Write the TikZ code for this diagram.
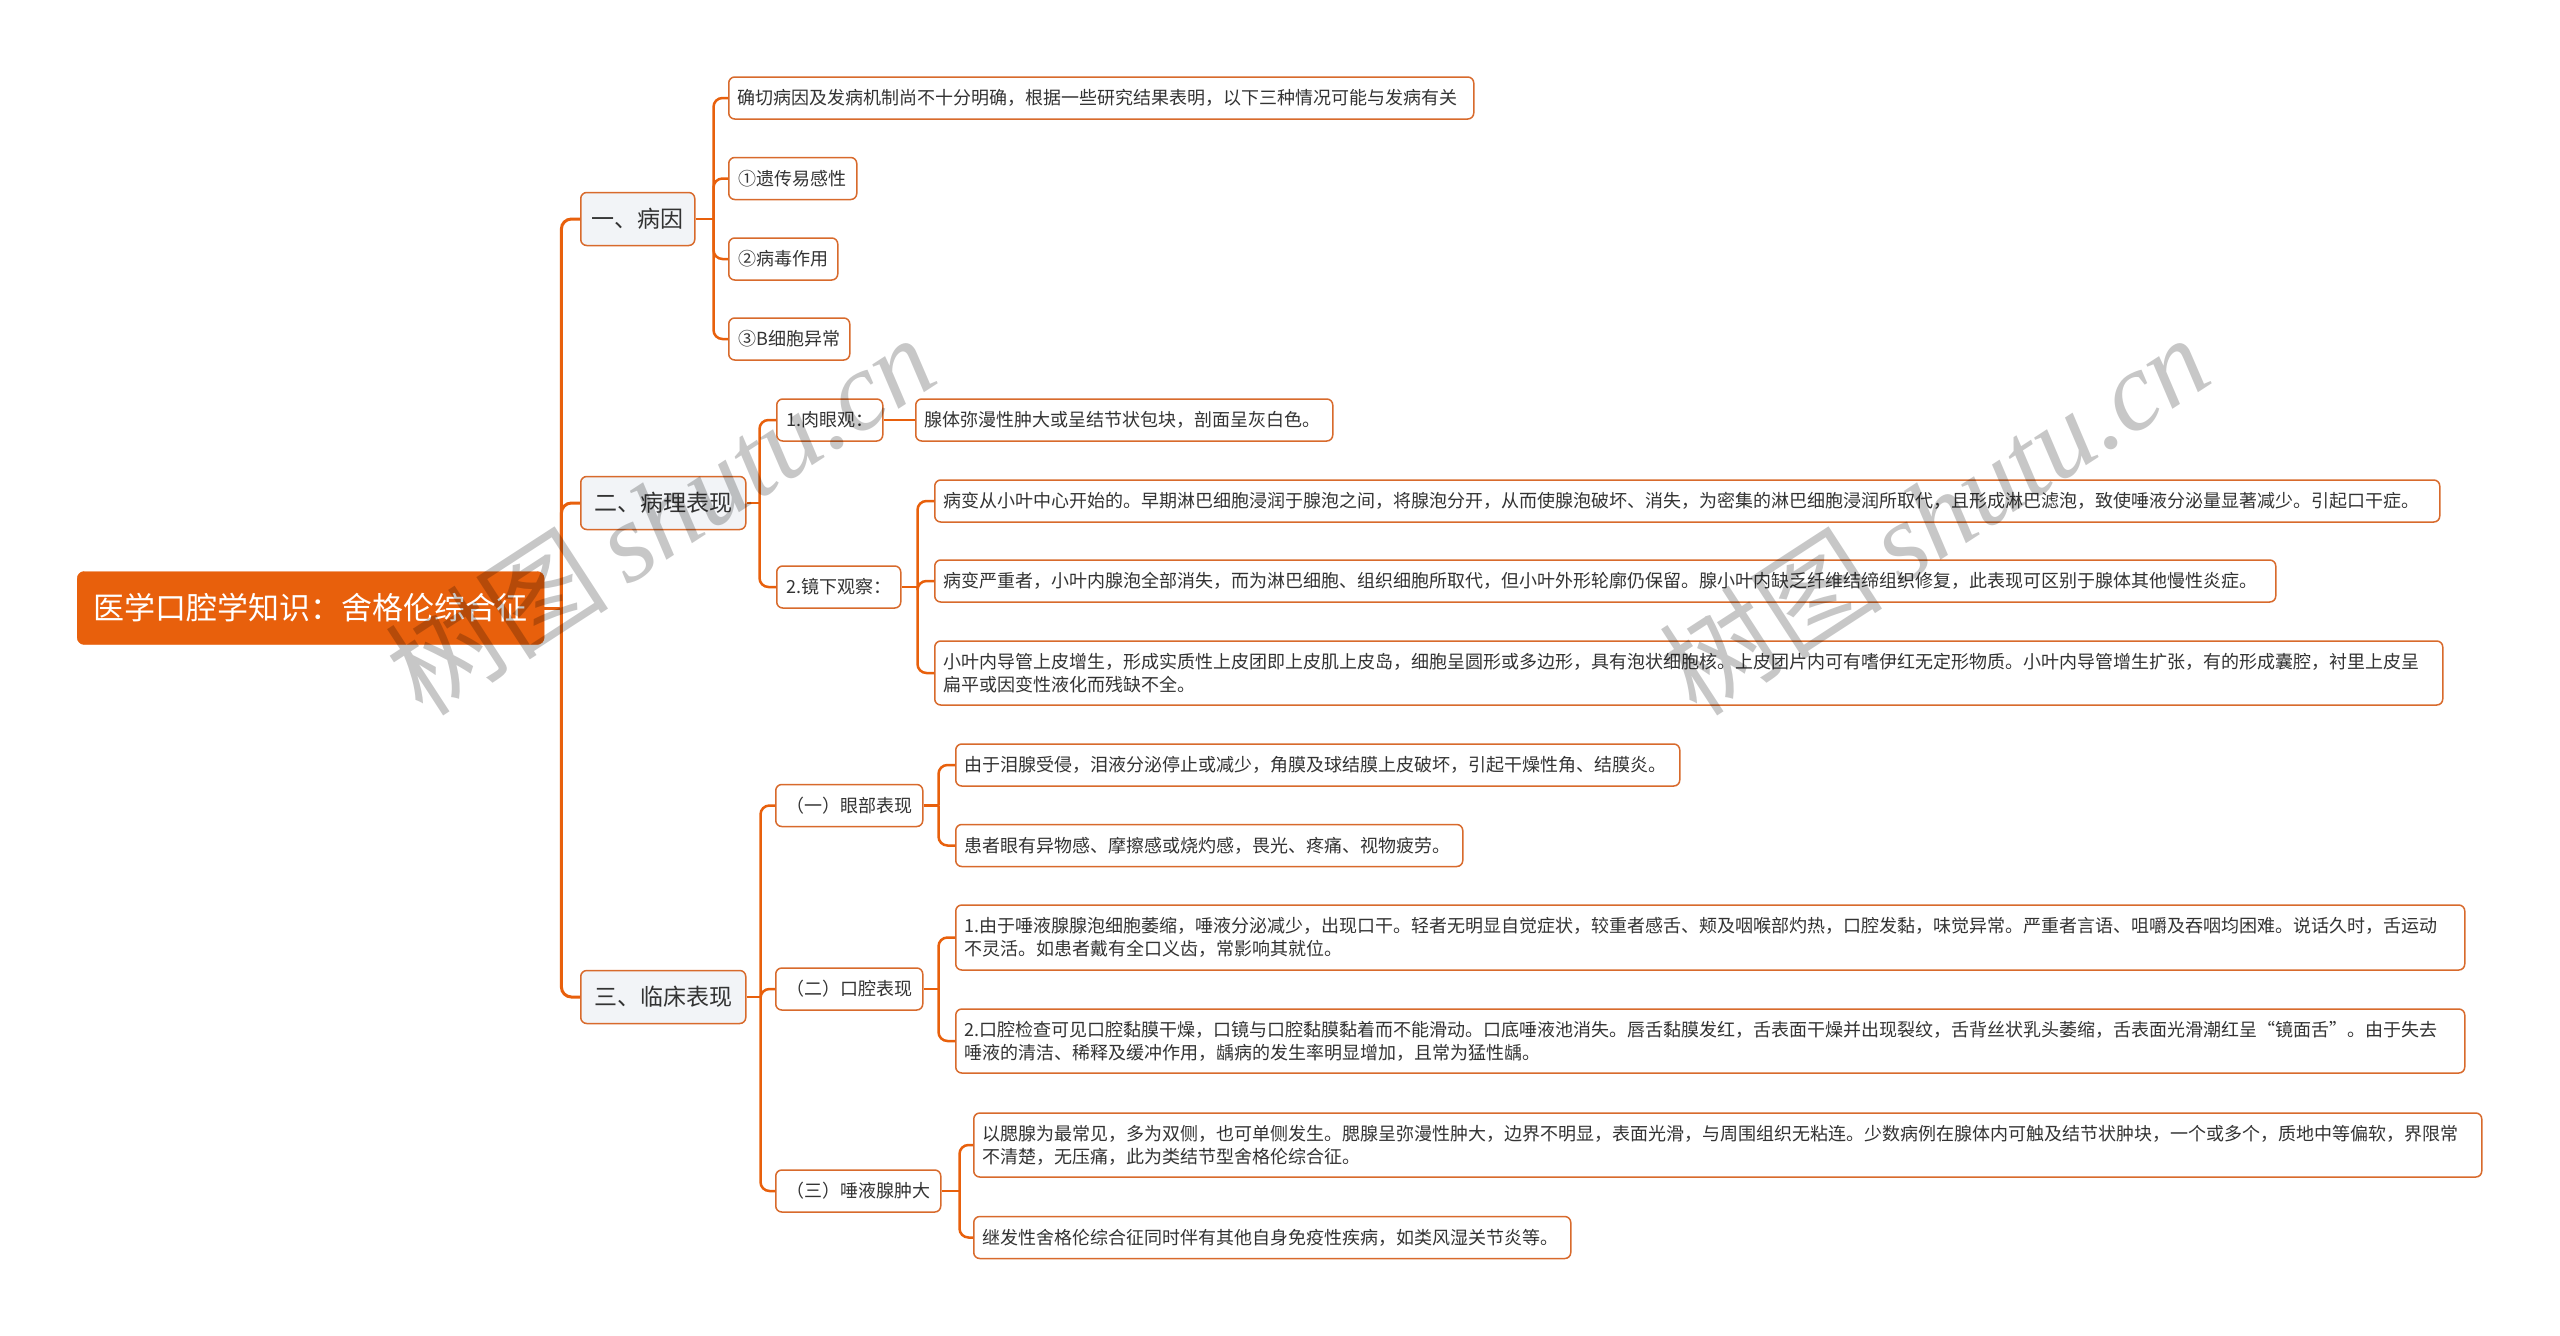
\documentclass[tikz,border=0pt]{standalone}
\usepackage{fontspec}
\setmainfont{Noto Sans CJK SC}
\newfontfamily\wmlatin{Liberation Serif}
\usetikzlibrary{calc}
\definecolor{org}{HTML}{E8600C}
\definecolor{bord}{HTML}{D86A2C}
\definecolor{lvl}{HTML}{F2F4F7}
\definecolor{txt}{HTML}{333333}
\begin{document}
\begin{tikzpicture}[x=1pt,y=-1pt,
  conn/.style={draw=org, line width=2.5pt, rounded corners=9pt},
  trunk/.style={draw=org, line width=3pt, rounded corners=10pt},
  rootbox/.style={draw=org, fill=org, rounded corners=7pt, minimum width=467pt, minimum height=73pt, text=white, font=\fontsize{31}{36}\selectfont, anchor=west, inner sep=0pt},
  lvlbox/.style={draw=bord, fill=lvl, line width=1.5pt, rounded corners=6pt, minimum height=53pt, minimum width=#1, text=txt, font=\fontsize{23}{28}\selectfont, anchor=west, inner sep=0pt},
  midbox/.style={draw=bord, fill=white, line width=1.5pt, rounded corners=6pt, minimum height=42pt, minimum width=#1, text=txt, font=\fontsize{18}{23}\selectfont, anchor=west, inner sep=0pt},
  leafbox/.style={draw=bord, fill=white, line width=1.5pt, rounded corners=6pt, minimum height=42pt, text width=#1, inner xsep=9pt, inner ysep=0pt, align=left, text=txt, font=\fontsize{18}{23}\selectfont, anchor=west},
  wm/.style={text=black, text opacity=0.22, font=\fontsize{112}{120}\selectfont, inner sep=0pt},
]
\useasboundingbox (0,0) rectangle (2560,1336);
\fill[white] (0,0) rectangle (2560,1336);

% root
\node[rootbox] (root) at (77,608) {医学口腔学知识：舍格伦综合征};

% level 1
\node[lvlbox=114pt] (n1) at (580,219) {一、病因};
\node[lvlbox=165pt] (n2) at (580,503) {二、病理表现};
\node[lvlbox=165pt] (n3) at (580,997) {三、临床表现};

% 一、病因 children
\node[leafbox=727pt] (a1) at (728,98) {确切病因及发病机制尚不十分明确，根据一些研究结果表明，以下三种情况可能与发病有关};
\node[midbox=128pt] (a2) at (728,178.5) {①遗传易感性};
\node[midbox=109pt] (a3) at (728,259) {②病毒作用};
\node[midbox=121pt] (a4) at (728,339) {③B细胞异常};

% 二、病理表现 children
\node[midbox=106pt] (b1) at (776,420) {1.肉眼观：};
\node[midbox=124pt] (b2) at (776,587) {2.镜下观察：};
\node[leafbox=399pt] (c1) at (915,420) {腺体弥漫性肿大或呈结节状包块，剖面呈灰白色。};
\node[leafbox=1487pt] (d1) at (934,501) {病变从小叶中心开始的。早期淋巴细胞浸润于腺泡之间，将腺泡分开，从而使腺泡破坏、消失，为密集的淋巴细胞浸润所取代，且形成淋巴滤泡，致使唾液分泌量显著减少。引起口干症。};
\node[leafbox=1323pt] (d2) at (934,581) {病变严重者，小叶内腺泡全部消失，而为淋巴细胞、组织细胞所取代，但小叶外形轮廓仍保留。腺小叶内缺乏纤维结缔组织修复，此表现可区别于腺体其他慢性炎症。};
\node[leafbox=1490pt, minimum height=64pt] (d3) at (934,673) {小叶内导管上皮增生，形成实质性上皮团即上皮肌上皮岛，细胞呈圆形或多边形，具有泡状细胞核。上皮团片内可有嗜伊红无定形物质。小叶内导管增生扩张，有的形成囊腔，衬里上皮呈\\扁平或因变性液化而残缺不全。};

% 三、临床表现 children
\node[midbox=147pt] (e) at (775,805.5) {（一）眼部表现};
\node[midbox=147pt] (f) at (775,989) {（二）口腔表现};
\node[midbox=165pt] (g) at (775,1191) {（三）唾液腺肿大};

\node[leafbox=706pt] (e1) at (955,765) {由于泪腺受侵，泪液分泌停止或减少，角膜及球结膜上皮破坏，引起干燥性角、结膜炎。};
\node[leafbox=489pt] (e2) at (955,845.5) {患者眼有异物感、摩擦感或烧灼感，畏光、疼痛、视物疲劳。};
\node[leafbox=1491pt, minimum height=65pt] (f1) at (955,937.5) {1.由于唾液腺腺泡细胞萎缩，唾液分泌减少，出现口干。轻者无明显自觉症状，较重者感舌、颊及咽喉部灼热，口腔发黏，味觉异常。严重者言语、咀嚼及吞咽均困难。说话久时，舌运动\\不灵活。如患者戴有全口义齿，常影响其就位。};
\node[leafbox=1491pt, minimum height=64pt] (f2) at (955,1041) {2.口腔检查可见口腔黏膜干燥，口镜与口腔黏膜黏着而不能滑动。口底唾液池消失。唇舌黏膜发红，舌表面干燥并出现裂纹，舌背丝状乳头萎缩，舌表面光滑潮红呈“镜面舌”。由于失去\\唾液的清洁、稀释及缓冲作用，龋病的发生率明显增加，且常为猛性龋。};
\node[leafbox=1490pt, minimum height=64pt] (g1) at (973,1145) {以腮腺为最常见，多为双侧，也可单侧发生。腮腺呈弥漫性肿大，边界不明显，表面光滑，与周围组织无粘连。少数病例在腺体内可触及结节状肿块，一个或多个，质地中等偏软，界限常\\不清楚，无压痛，此为类结节型舍格伦综合征。};
\node[leafbox=579pt] (g2) at (973,1237.5) {继发性舍格伦综合征同时伴有其他自身免疫性疾病，如类风湿关节炎等。};

% connectors
\coordinate (rootb) at ($(root.east)+(17,0)$);
\draw[trunk] (root.east) -- (rootb);
\foreach \c in {n1,n2,n3} \draw[trunk] (rootb) |- (\c.west);

\coordinate (n1b) at ($(n1.east)+(18,0)$);
\draw[conn] (n1.east) -- (n1b);
\foreach \c in {a1,a2,a3,a4} \draw[conn] (n1b) |- (\c.west);

\coordinate (n2b) at ($(n2.east)+(13,0)$);
\draw[conn] (n2.east) -- (n2b);
\foreach \c in {b1,b2} \draw[conn] (n2b) |- (\c.west);

\draw[conn] (b1.east) -- (c1.west);

\coordinate (b2b) at ($(b2.east)+(16,0)$);
\draw[conn] (b2.east) -- (b2b);
\foreach \c in {d1,d2,d3} \draw[conn] (b2b) |- (\c.west);

\coordinate (n3b) at ($(n3.east)+(14,0)$);
\draw[conn] (n3.east) -- (n3b);
\foreach \c in {e,f,g} \draw[conn] (n3b) |- (\c.west);

\coordinate (eb) at ($(e.east)+(15,0)$);
\draw[conn] (e.east) -- (eb);
\foreach \c in {e1,e2} \draw[conn] (eb) |- (\c.west);

\coordinate (fb) at ($(f.east)+(15,0)$);
\draw[conn] (f.east) -- (fb);
\foreach \c in {f1,f2} \draw[conn] (fb) |- (\c.west);

\coordinate (gb) at ($(g.east)+(18,0)$);
\draw[conn] (g.east) -- (gb);
\foreach \c in {g1,g2} \draw[conn] (gb) |- (\c.west);

% watermarks
\node[wm, rotate=33] (wm1) at (660,514) {树图\,{\wmlatin\itshape shutu.cn}};
\node[wm, rotate=33] (wm2) at (1934,514) {树图\,{\wmlatin\itshape shutu.cn}};
\end{tikzpicture}
\end{document}
